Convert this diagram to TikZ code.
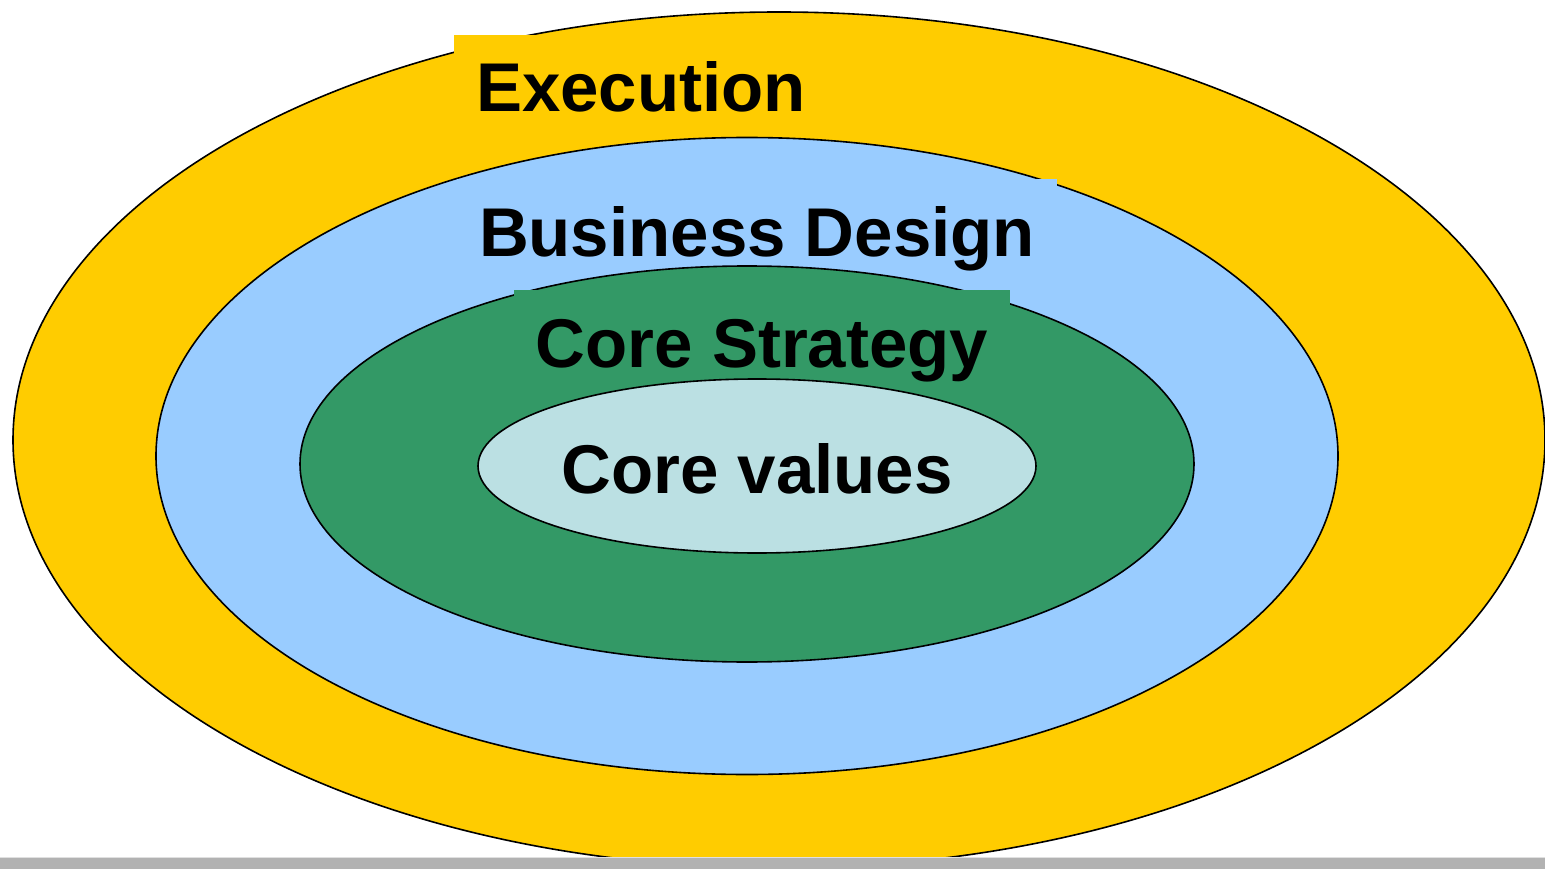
\documentclass[tikz,border=0pt]{standalone}
\usepackage{fontspec}
\setmainfont{Liberation Sans}
\usetikzlibrary{shapes.geometric}

\definecolor{execyellow}{HTML}{FFCC00}
\definecolor{designblue}{HTML}{99CCFF}
\definecolor{strategygreen}{HTML}{339966}
\definecolor{valuescyan}{HTML}{BBE0E3}
\definecolor{bargray}{HTML}{B2B2B2}

\tikzset{
  ring/.style={ellipse, draw=black, line width=1.6pt, inner sep=0pt},
  ringlabel/.style={anchor=base, inner xsep=22pt, inner ysep=25pt,
    text height=52pt, text depth=15pt,
    font=\fontsize{69}{83}\selectfont\bfseries}
}

\begin{document}
\begin{tikzpicture}[x=1pt,y=-1pt]
        \useasboundingbox[fill=white] (0,0) rectangle (1545,869);

        \node[ring, fill=execyellow, minimum width=1532pt, minimum height=856pt] (execring) at (779,440) {};
        \node[ringlabel, fill=execyellow] (execlabel) at (641,112) {Execution};

        \node[ring, fill=designblue, minimum width=1182pt, minimum height=637pt] (designring) at (747,456) {};
        \node[ringlabel, fill=designblue] (designlabel) at (757,256) {Business Design};

        \node[ring, fill=strategygreen, minimum width=894pt, minimum height=396pt] (strategyring) at (747,464) {};
        \node[ringlabel, fill=strategygreen] (strategylabel) at (762,367) {Core Strategy};

        \node[ring, fill=valuescyan, minimum width=558pt, minimum height=174pt] (valuesring) at (757,466) {};
        \node[ringlabel] (valueslabel) at (757,493) {Core values};

        \fill[bargray] (0,858) rectangle (1545,869);
        \draw[black!12, line width=1pt] (0,857.5) -- (1545,857.5);
    \end{tikzpicture}
\end{document}
